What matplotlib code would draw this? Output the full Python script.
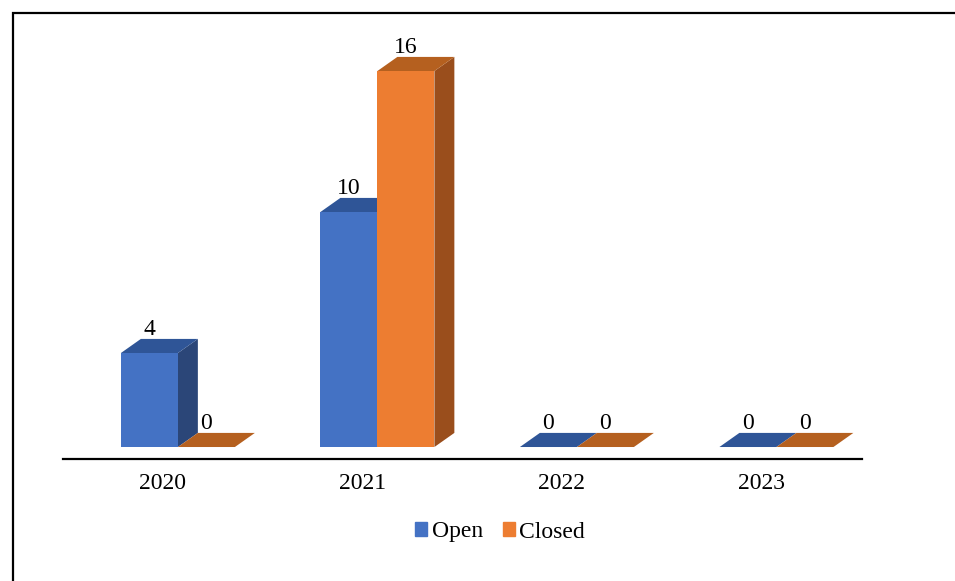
import matplotlib.pyplot as plt
from matplotlib.patches import Polygon, Patch, Rectangle
import numpy as np

plt.rcParams['font.family'] = ['Liberation Serif', 'DejaVu Serif']

years = ['2020', '2021', '2022', '2023']
open_counts = [4, 10, 0, 0]
closed_counts = [0, 16, 0, 0]

# colours: front, top, side
open_cols = ('#4472C4', '#2F5597', '#2B4678')
closed_cols = ('#ED7D31', '#B5601F', '#9A4E1C')

W = 0.2857   # bar width in category units
DX = 0.1     # depth offset, x
DY = 0.6     # depth offset, y (value units)

fig = plt.figure(figsize=(9.55, 5.81), dpi=100)
ax = fig.add_axes([63 / 955, 122 / 581, (862 - 63) / 955, 419 / 581])
ax.set_xlim(-0.576, 3.429)
ax.set_ylim(-0.51, 17.32)


def bar3d(x0, h, cols):
    front, top, side = cols
    if h > 0:
        ax.add_patch(Polygon([(x0 + W, 0), (x0 + W + DX, DY), (x0 + W + DX, h + DY), (x0 + W, h)],
                             closed=True, fc=side, ec='none'))
    ax.add_patch(Polygon([(x0, h), (x0 + W, h), (x0 + W + DX, h + DY), (x0 + DX, h + DY)],
                         closed=True, fc=top, ec='none'))
    if h > 0:
        ax.bar(x0, h, width=W, align='edge', color=front, edgecolor='none')


x = np.arange(len(years))
for i in x:
    bar3d(i - W, open_counts[i], open_cols)
    bar3d(i, closed_counts[i], closed_cols)
    ax.annotate(str(open_counts[i]), (i - W / 2, open_counts[i] + DY), xytext=(0, 3),
                textcoords='offset points', ha='center', va='baseline', fontsize=17)
    ax.annotate(str(closed_counts[i]), (i + W / 2, closed_counts[i] + DY), xytext=(0, 3),
                textcoords='offset points', ha='center', va='baseline', fontsize=17)

ax.set_xticks(x - 0.075)
ax.set_xticklabels(years, fontsize=17)
ax.tick_params(axis='x', length=0, pad=10)
ax.set_yticks([])
for s in ['top', 'right', 'left']:
    ax.spines[s].set_visible(False)
ax.spines['bottom'].set_linewidth(1.6)

handles = [Patch(color=open_cols[0], label='Open'), Patch(color=closed_cols[0], label='Closed')]
fig.legend(handles=handles, loc='center', bbox_to_anchor=(500 / 955, 1 - 532 / 581), ncol=2,
           frameon=False, fontsize=17, handlelength=0.5, handleheight=0.5,
           handletextpad=0.2, columnspacing=0.85)

fig.patches.append(Rectangle((13 / 955, -0.1), 1.2, 1 - 13 / 581 + 0.1, transform=fig.transFigure,
                             fill=False, ec='black', lw=1.6))

fig.savefig('out.png', dpi=100)
